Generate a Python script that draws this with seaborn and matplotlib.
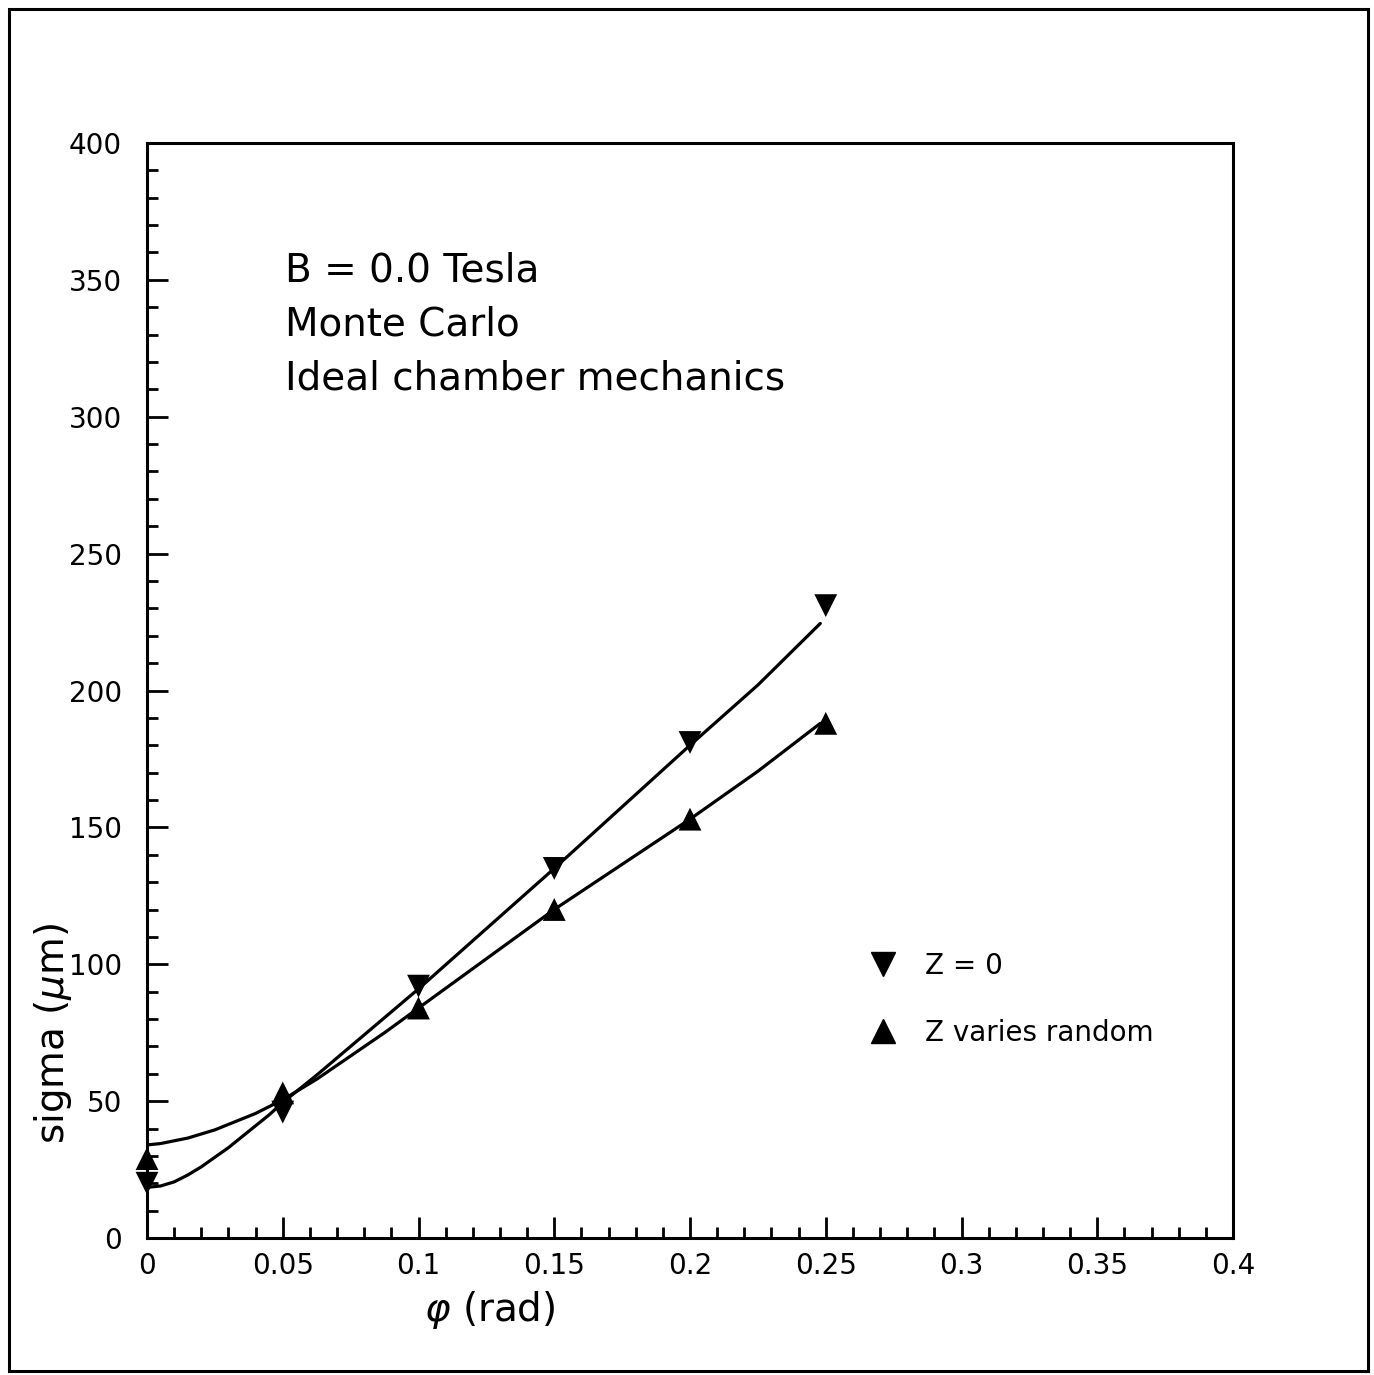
import numpy as np
import pandas as pd
import matplotlib
matplotlib.use("Agg")
import matplotlib.pyplot as plt
import seaborn as sns
from matplotlib.lines import Line2D
from matplotlib.patches import Rectangle
from matplotlib.ticker import MultipleLocator

# ---- data ----
phi = [0.0, 0.05, 0.10, 0.15, 0.20, 0.25]
sigma_z0 = [20, 46, 92, 135, 181, 231]
sigma_zrand = [29, 53, 84, 120, 153, 188]

fit_phi = [0.0, 0.005, 0.01, 0.015, 0.02, 0.025, 0.03, 0.035, 0.04, 0.045, 0.05,
           0.0625, 0.075, 0.0875, 0.10, 0.125, 0.15, 0.175, 0.20, 0.225, 0.248]
fit_z0 = [18.5, 19.0, 20.5, 23.0, 26.0, 29.5, 33.0, 37.0, 41.0, 45.0, 49.5,
          59.5, 70.0, 80.5, 91.0, 113.0, 135.0, 157.5, 180.0, 202.0, 224.5]
fit_zrand = [34.0, 34.5, 35.5, 36.5, 38.0, 39.5, 41.5, 43.5, 45.5, 48.0, 50.5,
             58.0, 66.5, 75.0, 84.0, 102.0, 120.0, 136.5, 153.0, 170.5, 188.0]

series_labels = ["Z = 0", "Z varies random"]
annotation_lines = ["B = 0.0 Tesla", "Monte Carlo", "Ideal chamber mechanics"]
x_label = r"$\varphi$ (rad)"
y_label = r"sigma ($\mu$m)"

pts = pd.DataFrame({
    "phi": phi + phi,
    "sigma": sigma_z0 + sigma_zrand,
    "series": [series_labels[0]] * len(phi) + [series_labels[1]] * len(phi),
})
fits = pd.DataFrame({
    "phi": fit_phi + fit_phi,
    "sigma": fit_z0 + fit_zrand,
    "series": [series_labels[0]] * len(fit_phi) + [series_labels[1]] * len(fit_phi),
})

sns.set_style("white")
plt.rcParams["font.family"] = ["DejaVu Sans"]
plt.rcParams["mathtext.fontset"] = "dejavusans"
plt.rcParams["text.color"] = "black"
plt.rcParams["xtick.color"] = "black"
plt.rcParams["ytick.color"] = "black"

W, H = 1374, 1375
fig = plt.figure(figsize=(W / 100, H / 100), dpi=100)
ax = fig.add_axes([147 / W, 1 - 1238 / H, (1233 - 147) / W, (1238 - 143) / H])

sns.lineplot(data=fits, x="phi", y="sigma", units="series", estimator=None,
             color="black", linewidth=2.3, ax=ax, legend=False, sort=False)
sns.scatterplot(data=pts, x="phi", y="sigma", style="series",
                markers={series_labels[0]: "v", series_labels[1]: "^"},
                color="black", s=270, linewidth=0, ax=ax, legend=False, zorder=5,
                clip_on=False)

ax.set_xlim(0, 0.4)
ax.set_ylim(0, 400)
ax.xaxis.set_minor_locator(MultipleLocator(0.01))
ax.yaxis.set_major_locator(MultipleLocator(50))
ax.yaxis.set_minor_locator(MultipleLocator(10))
ax.set_xticks([0, 0.05, 0.1, 0.15, 0.2, 0.25, 0.3, 0.35, 0.4])
ax.set_xticklabels(["0", "0.05", "0.1", "0.15", "0.2", "0.25", "0.3", "0.35", "0.4"])
ax.tick_params(axis="both", which="both", direction="in", bottom=True, left=True,
               top=False, right=False, width=2.0, colors="black", labelcolor="black")
ax.tick_params(axis="both", which="major", length=15, labelsize=20)
ax.tick_params(axis="both", which="minor", length=8)
ax.tick_params(axis="x", which="major", pad=10)
ax.tick_params(axis="y", which="major", pad=18)
for s in ax.spines.values():
    s.set_visible(True)
    s.set_linewidth(2.2)
    s.set_color("black")
ax.set_xlabel("")
ax.set_ylabel("")

fig.text(490 / W, 1 - 1310 / H, x_label, fontsize=28, ha="center", va="center", color="black")
fig.text(53 / W, 1 - 1033 / H, y_label, fontsize=28, ha="center", va="center",
         rotation=90, color="black")

for line, yc in zip(annotation_lines, [270, 325, 378]):
    fig.text(285 / W, 1 - yc / H, line, fontsize=28, ha="left", va="center", color="black")

handles = [Line2D([], [], linestyle="none", marker="v", color="black", markersize=17),
           Line2D([], [], linestyle="none", marker="^", color="black", markersize=17)]
leg = ax.legend(handles, series_labels, loc="upper left", frameon=False, fontsize=20,
                bbox_to_anchor=(858 / W, 1 - 941 / H), bbox_transform=fig.transFigure,
                handlelength=1.0, handletextpad=1.0, labelspacing=1.4, borderaxespad=0)
for t in leg.get_texts():
    t.set_color("black")

fig.patches.append(Rectangle((9 / W, 1 - 1371 / H), (1368 - 9) / W, (1371 - 9) / H,
                             transform=fig.transFigure, fill=False, edgecolor="black",
                             linewidth=2.2))

fig.savefig("out.png", dpi=100)
